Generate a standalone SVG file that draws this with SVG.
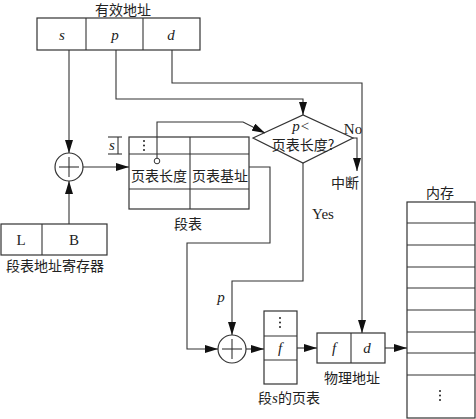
<svg xmlns="http://www.w3.org/2000/svg" width="476" height="419" viewBox="0 0 476 419">
<style>
.b{fill:#fff;stroke:#333;stroke-width:1.2}
.l{fill:none;stroke:#333;stroke-width:1.1}
.c{font-family:"Noto Sans CJK SC","Liberation Serif",serif;font-size:14px;fill:#222}
.i{font-family:"Liberation Serif",serif;font-style:italic;font-size:15px;fill:#222}
.r{font-family:"Liberation Serif",serif;font-size:15px;fill:#222}
.dot{fill:#222}
</style>
<defs>
<marker id="a" markerUnits="userSpaceOnUse" markerWidth="14" markerHeight="8" refX="13" refY="4" orient="auto">
<path d="M0,0 L13,4 L0,8 Z" fill="#111"/>
</marker>
<g id="vd">
<circle class="dot" cx="0" cy="0" r="1"/>
<circle class="dot" cx="0" cy="4.5" r="1"/>
<circle class="dot" cx="0" cy="9" r="1"/>
</g>
</defs>
<g id="effective-address">
<text class="c" x="123" y="15" text-anchor="middle" font-size="15">有效地址</text>
<rect class="b" x="37" y="18" width="163" height="32"/>
<line class="l" x1="86" y1="18" x2="86" y2="50"/>
<line class="l" x1="143" y1="18" x2="143" y2="50"/>
<text class="i" x="62" y="40" text-anchor="middle">s</text>
<text class="i" x="115" y="40" text-anchor="middle">p</text>
<text class="i" x="171" y="40" text-anchor="middle">d</text>
</g>
<g id="adder1">
<circle class="b" cx="69" cy="167" r="14"/>
<line class="l" x1="59" y1="167" x2="79" y2="167"/>
<line class="l" x1="69" y1="157" x2="69" y2="177"/>
</g>
<g id="seg-reg">
<rect class="b" x="1" y="224" width="106" height="31"/>
<line class="l" x1="42" y1="224" x2="42" y2="255"/>
<text class="r" x="21" y="245" text-anchor="middle">L</text>
<text class="r" x="74" y="245" text-anchor="middle">B</text>
<text class="c" x="55" y="271" text-anchor="middle" font-size="15">段表地址寄存器</text>
</g>
<g id="seg-table">
<rect class="b" x="129" y="137" width="120" height="72"/>
<line class="l" x1="190" y1="137" x2="190" y2="209"/>
<line class="l" x1="129" y1="154" x2="249" y2="154"/>
<line class="l" x1="129" y1="189" x2="249" y2="189"/>
<use href="#vd" x="144" y="141"/>
<text class="c" x="159" y="181" text-anchor="middle">页表长度</text>
<text class="c" x="220" y="181" text-anchor="middle">页表基址</text>
<text class="c" x="188" y="229" text-anchor="middle" font-size="15">段表</text>
<line class="l" x1="108" y1="137" x2="122" y2="137"/>
<line class="l" x1="108" y1="154" x2="122" y2="154"/>
<line class="l" x1="118" y1="137" x2="118" y2="154"/>
<text class="i" x="112" y="150" text-anchor="middle" font-size="14">s</text>
<circle cx="157" cy="161" r="2.8" fill="#fff" stroke="#333" stroke-width="1"/>
</g>
<g id="decision">
<polygon class="b" points="253,138 303,115 353,138 303,163"/>
<text class="i" x="301" y="131" text-anchor="middle" font-size="13">p&lt;</text>
<text class="c" x="303" y="150" text-anchor="middle" font-size="13">页表长度?</text>
<text class="r" x="353" y="134" text-anchor="middle" font-size="14">No</text>
<text class="c" x="345" y="188" text-anchor="middle">中断</text>
<text class="r" x="323" y="219" text-anchor="middle" font-size="14">Yes</text>
</g>
<g id="adder2">
<circle class="b" cx="232" cy="349" r="14"/>
<line class="l" x1="222" y1="349" x2="242" y2="349"/>
<line class="l" x1="232" y1="339" x2="232" y2="359"/>
<text class="i" x="221" y="302" text-anchor="middle" font-size="14">p</text>
</g>
<g id="page-table">
<rect class="b" x="264" y="311" width="33" height="73"/>
<line class="l" x1="264" y1="336" x2="297" y2="336"/>
<line class="l" x1="264" y1="360" x2="297" y2="360"/>
<use href="#vd" x="280" y="318"/>
<text class="i" x="280" y="353" text-anchor="middle" font-size="14">f</text>
<text class="c" x="289" y="403" text-anchor="middle">段<tspan class="i" font-size="14">s</tspan>的页表</text>
</g>
<g id="physical-address">
<rect class="b" x="317" y="333" width="68" height="30"/>
<line class="l" x1="351" y1="333" x2="351" y2="363"/>
<text class="i" x="334" y="353" text-anchor="middle" font-size="14">f</text>
<text class="i" x="367" y="353" text-anchor="middle" font-size="14">d</text>
<text class="c" x="352" y="383" text-anchor="middle">物理地址</text>
</g>
<g id="memory">
<text class="c" x="440" y="198" text-anchor="middle">内存</text>
<rect class="b" x="407" y="202" width="68" height="216"/>
<line class="l" x1="407" y1="223" x2="475" y2="223"/>
<line class="l" x1="407" y1="245" x2="475" y2="245"/>
<line class="l" x1="407" y1="267" x2="475" y2="267"/>
<line class="l" x1="407" y1="288" x2="475" y2="288"/>
<line class="l" x1="407" y1="310" x2="475" y2="310"/>
<line class="l" x1="407" y1="332" x2="475" y2="332"/>
<line class="l" x1="407" y1="353" x2="475" y2="353"/>
<line class="l" x1="407" y1="375" x2="475" y2="375"/>
<use href="#vd" x="440" y="391"/>
</g>
<g id="connectors">
<path class="l" d="M69,50 V153" marker-end="url(#a)"/>
<path class="l" d="M69,224 V181" marker-end="url(#a)"/>
<path class="l" d="M83,167 H129" marker-end="url(#a)"/>
<path class="l" d="M116,50 V99 H303 V115" marker-end="url(#a)"/>
<path class="l" d="M172,50 V83 H362 V333" marker-end="url(#a)"/>
<path class="l" d="M157,158 V122 H243 L265,133" marker-end="url(#a)"/>
<path class="l" d="M353,138 H357 V171" marker-end="url(#a)"/>
<path class="l" d="M303,163 V281 H232 V335" marker-end="url(#a)"/>
<path class="l" d="M249,167 H270 V243 H187 V349 H218" marker-end="url(#a)"/>
<path class="l" d="M246,349 H264" marker-end="url(#a)"/>
<path class="l" d="M297,348 H317" marker-end="url(#a)"/>
<path class="l" d="M385,348 H407" marker-end="url(#a)"/>
</g>
</svg>
